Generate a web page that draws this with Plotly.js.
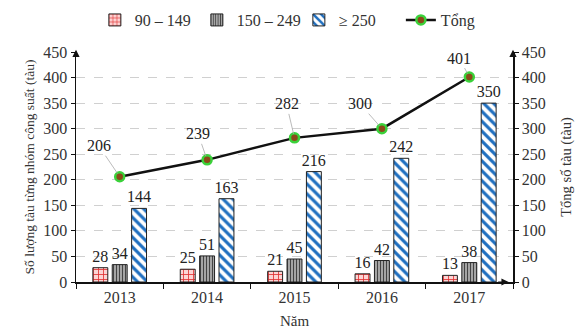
<!DOCTYPE html>
<html><head><meta charset="utf-8">
<script src="https://cdn.plot.ly/plotly-3.0.1.min.js"></script>
<style>html,body{margin:0;padding:0;background:#fff}</style>
</head><body>
<div id="chart" style="width:583px;height:334px"></div>
<script>
const years = ['2013','2014','2015','2016','2017'];
const g90_149 = [28, 25, 21, 16, 13];
const g150_249 = [34, 51, 45, 42, 38];
const g250 = [144, 163, 216, 242, 350];
const total = [206, 239, 282, 300, 401];
const labelOffsetsX = [-21, -9, -8, -22, -10];
const labelOffsetsY = [-31, -26, -34, -25, -19];

const F = 'Liberation Serif, Times New Roman, serif';
const txtFont = () => ({family: F, size: 16, color: '#222'});

const traces = [
  {type:'bar', name:'90 – 149', x:years, y:g90_149, text:g90_149.map(String), textposition:'outside', textfont:txtFont(), cliponaxis:false, constraintext:'none',
   marker:{color:'#fbd0d0', line:{color:'#222', width:1}, pattern:{shape:'+', fgcolor:'#e03030', bgcolor:'#fcd4d4', size:5, solidity:0.3}}},
  {type:'bar', name:'150 – 249', x:years, y:g150_249, text:g150_249.map(String), textposition:'outside', textfont:txtFont(), cliponaxis:false, constraintext:'none',
   marker:{color:'#999', line:{color:'#222', width:1}, pattern:{shape:'|', fgcolor:'#444', bgcolor:'#b0b0b0', size:3, solidity:0.4}}},
  {type:'bar', name:'≥ 250', x:years, y:g250, text:g250.map(String), textposition:'outside', textfont:txtFont(), cliponaxis:false, constraintext:'none',
   marker:{color:'#ffffff', line:{color:'#222', width:1}, pattern:{shape:'\\', fgcolor:'#1f6fc0', bgcolor:'#ffffff', size:7, solidity:0.45}}},
  {type:'scatter', mode:'lines+markers', name:'Tổng', x:years, y:total, yaxis:'y2', cliponaxis:false,
   line:{color:'#111', width:2.5}, marker:{color:'#8b4a1a', size:9, line:{color:'#3ad13a', width:2.5}}}
];

const annotations = total.map((v,i)=>({
  x:i, y:v, xref:'x', yref:'y2', text:String(v), showarrow:true, arrowhead:0, arrowwidth:0.8, arrowcolor:'#aaa',
  ax:labelOffsetsX[i], ay:labelOffsetsY[i], font:txtFont(), standoff:4
}));
annotations.push({xref:'paper', yref:'paper', x:0, y:1.01, ax:0, ay:14, text:' ', showarrow:true, arrowhead:2, arrowsize:1.2, arrowwidth:1.2, arrowcolor:'#111'});
annotations.push({xref:'paper', yref:'paper', x:1, y:1.01, ax:0, ay:14, text:' ', showarrow:true, arrowhead:2, arrowsize:1.2, arrowwidth:1.2, arrowcolor:'#111'});
annotations.push({xref:'paper', yref:'paper', x:0.99, y:0, ax:-14, ay:0, text:' ', showarrow:true, arrowhead:2, arrowsize:1.2, arrowwidth:1.2, arrowcolor:'#111'});

const layout = {
  width:583, height:334,
  margin:{l:76, r:70, t:52, b:52, autoexpand:false},
  paper_bgcolor:'#fff', plot_bgcolor:'#fff',
  font:{family:F, size:16, color:'#333'},
  barmode:'group', bargap:0.335, bargroupgap:0.23,
  showlegend:true,
  legend:{orientation:'h', x:0.51, xanchor:'center', y:1.139, yanchor:'middle', font:{family:F, size:16, color:'#333'},
    itemwidth:30, traceorder:'normal', entrywidth:57, entrywidthmode:'pixels'},
  xaxis:{type:'category', range:[-0.5,4.5], showline:true, linecolor:'#111', linewidth:1.5, ticks:'outside', tickson:'boundaries', ticklen:5, tickcolor:'#111',
    tickfont:{family:F, size:16, color:'#333'}, title:{text:'Năm', font:{family:F, size:15, color:'#333'}, standoff:11}, showgrid:false, zeroline:false},
  yaxis:{range:[0,450], dtick:50, showline:true, linecolor:'#111', linewidth:1.5, ticks:'outside', ticklen:4, tickcolor:'#111',
    showgrid:true, gridcolor:'#d0d0d0', griddash:'dash', zeroline:false,
    tickfont:{family:F, size:16, color:'#333'}, title:{text:'Số lượng tàu từng nhóm công suất (tàu)', font:{family:F, size:13.5, color:'#333'}, standoff:5}},
  yaxis2:{range:[0,450], dtick:50, overlaying:'y', side:'right', showline:true, linecolor:'#111', linewidth:1.5, ticks:'outside', ticklen:4, tickcolor:'#111',
    showgrid:false, zeroline:false,
    tickfont:{family:F, size:16, color:'#333'}, title:{text:'Tổng số tàu (tàu)', font:{family:F, size:14.5, color:'#333'}, standoff:16}},
  annotations:annotations
};

Plotly.newPlot('chart', traces, layout, {displayModeBar:false, staticPlot:true});
</script>
</body></html>
